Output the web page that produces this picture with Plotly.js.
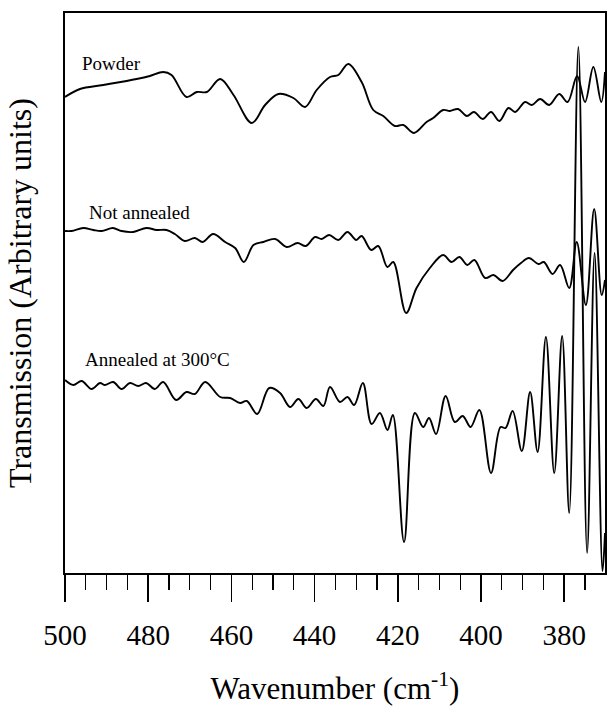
<!DOCTYPE html>
<html>
<head>
<meta charset="utf-8">
<script src="https://cdn.plot.ly/plotly-3.0.1.min.js"></script>
<style>
  html, body { margin: 0; padding: 0; background: #fff; }
  #chart { width: 607px; height: 712px; }
</style>
</head>
<body>
<div id="chart"></div>
<script>
// ---- Data (y in arbitrary units) ----
const seriesNames = ["Powder", "Not annealed", "Annealed at 300°C"];

const powderWavenumber = [500, 496.4, 490.8, 482.8, 479.6, 476.4, 474.4, 470.8, 468.3, 465.9, 462.7, 459.5, 455.1, 451.9, 448.7, 445.1, 442.3, 439.5, 436.3, 434.3, 431.9, 428.7, 425.9, 423.5, 420.7, 418.7, 416.1, 413.1, 411.5, 409.1, 407.5, 405.5, 403.4, 401.7, 399.6, 397.6, 395.6, 393.4, 391.8, 389.4, 387.8, 385.8, 383.6, 381.2, 379.2, 376.9, 375.0, 373.0, 371.1, 370.2];
const powderTransmission = [476, 484, 488, 494, 497, 501, 498, 476, 481, 481, 494, 478, 450, 468, 479, 475, 466, 483, 496, 498, 509, 491, 463, 457, 447, 448, 440, 451, 455, 463, 462, 464, 457, 461, 454, 461, 452, 465, 461, 471, 468, 474, 468, 479, 471, 497, 471, 506, 471, 501];

const notAnnealedWavenumber = [500, 498.4, 495.6, 493.2, 491.2, 488.5, 486.4, 483.6, 480.4, 478, 475.6, 473.6, 471.2, 468.8, 466.9, 464.4, 461.5, 459.1, 457, 454.7, 452.3, 449.5, 446.7, 444.1, 442.1, 439.9, 438.3, 436.5, 434.3, 432.1, 430, 428.7, 426.4, 424.7, 422.5, 421.1, 418, 415.5, 412.3, 409.1, 407.1, 405.2, 403.3, 401.6, 399, 397, 394.8, 392.3, 390.4, 388.5, 386.2, 384.9, 382.8, 381, 378.8, 377, 374.8, 372.8, 371, 370.2];
const notAnnealedTransmission = [342, 342, 345, 343, 342, 345, 342, 341, 345, 343, 343, 339, 332, 335, 331, 339, 331, 325, 311, 328, 331, 334, 326, 330, 327, 336, 334, 338, 333, 341, 333, 337, 323, 327, 306, 311, 260, 285, 305, 318, 311, 316, 308, 313, 295, 298, 292, 303, 310, 315, 309, 311, 299, 308, 285, 331, 268, 364, 278, 293];

const annealedWavenumber = [500, 498, 496, 493.6, 491.6, 490.4, 488.4, 486.4, 484.4, 482.4, 480.5, 478.4, 476.4, 473.3, 470.8, 468.8, 466.3, 462.7, 460.3, 457.9, 456.3, 453.8, 450.9, 448.3, 445.9, 443.9, 441.9, 439.7, 437.9, 436.3, 433.9, 432.1, 430.5, 428.4, 426.3, 424.3, 422.5, 421.2, 418.5, 415.9, 413.9, 412.5, 410.8, 408.5, 406.3, 404.4, 402.5, 400.4, 397.6, 395.3, 394.1, 392.4, 390.2, 388.2, 386.4, 384.4, 382.4, 380.5, 378.8, 376.6, 374.5, 372.7, 370.8, 370.2];
const annealedTransmission = [193, 188, 192, 184, 190, 188, 191, 184, 190, 187, 190, 184, 191, 173, 181, 179, 191, 176, 175, 170, 172, 159, 185, 180, 166, 174, 165, 174, 167, 186, 171, 176, 168, 190, 149, 160, 143, 158, 31, 160, 146, 155, 139, 177, 151, 157, 146, 163, 100, 146, 145, 162, 122, 181, 121, 236, 100, 237, 60, 526, 20, 320, 2, 40];

const xTickValues = [500, 480, 460, 440, 420, 400, 380];
const xTickLabels = ["500", "480", "460", "440", "420", "400", "380"];

// ---- Chart ----
const serif = "Liberation Serif";
const lineStyle = { color: "#000", width: 1.9, shape: "spline", smoothing: 1 };

const traces = [
  { x: powderWavenumber, y: powderTransmission, name: seriesNames[0] },
  { x: notAnnealedWavenumber, y: notAnnealedTransmission, name: seriesNames[1] },
  { x: annealedWavenumber, y: annealedTransmission, name: seriesNames[2] }
].map(t => Object.assign(t, { type: "scatter", mode: "lines", line: lineStyle, hoverinfo: "x+y+name" }));

const labelPos = [
  { x: 0.028, y: 0.909 },
  { x: 0.040, y: 0.643 },
  { x: 0.034, y: 0.382 }
];

const layout = {
  width: 607,
  height: 712,
  margin: { l: 65, r: 2, t: 13, b: 139, pad: 0 },
  paper_bgcolor: "#fff",
  plot_bgcolor: "#fff",
  showlegend: false,
  font: { family: serif, color: "#000" },
  xaxis: {
    range: [500, 370.2],
    autorange: false,
    tickmode: "array",
    tickvals: xTickValues,
    ticktext: xTickLabels,
    ticks: "outside",
    ticklen: 27,
    tickwidth: 1.5,
    tickcolor: "#000",
    minor: { dtick: 5, tick0: 0, ticks: "outside", ticklen: 15, tickwidth: 1.2, tickcolor: "#000", showgrid: false },
    ticklabelstandoff: 8,
    tickfont: { family: serif, size: 29, color: "#000" },
    showline: true,
    linecolor: "#000",
    linewidth: 2,
    mirror: true,
    showgrid: false,
    zeroline: false,
    title: { text: "Wavenumber (cm<sup>-1</sup>)", font: { family: serif, size: 31, color: "#000" }, standoff: 28 }
  },
  yaxis: {
    range: [0, 560],
    autorange: false,
    showticklabels: false,
    ticks: "",
    showline: true,
    linecolor: "#000",
    linewidth: 2,
    mirror: true,
    showgrid: false,
    zeroline: false,
    title: { text: "Transmission (Arbitrary units)", font: { family: serif, size: 32, color: "#000" }, standoff: 22 }
  },
  annotations: seriesNames.map((n, i) => ({
    text: n,
    xref: "paper", yref: "paper",
    x: labelPos[i].x, y: labelPos[i].y,
    xanchor: "left", yanchor: "middle",
    showarrow: false,
    font: { family: serif, size: 19, color: "#000" }
  }))
};

Plotly.newPlot("chart", traces, layout, { displayModeBar: false, staticPlot: true });
</script>
</body>
</html>
